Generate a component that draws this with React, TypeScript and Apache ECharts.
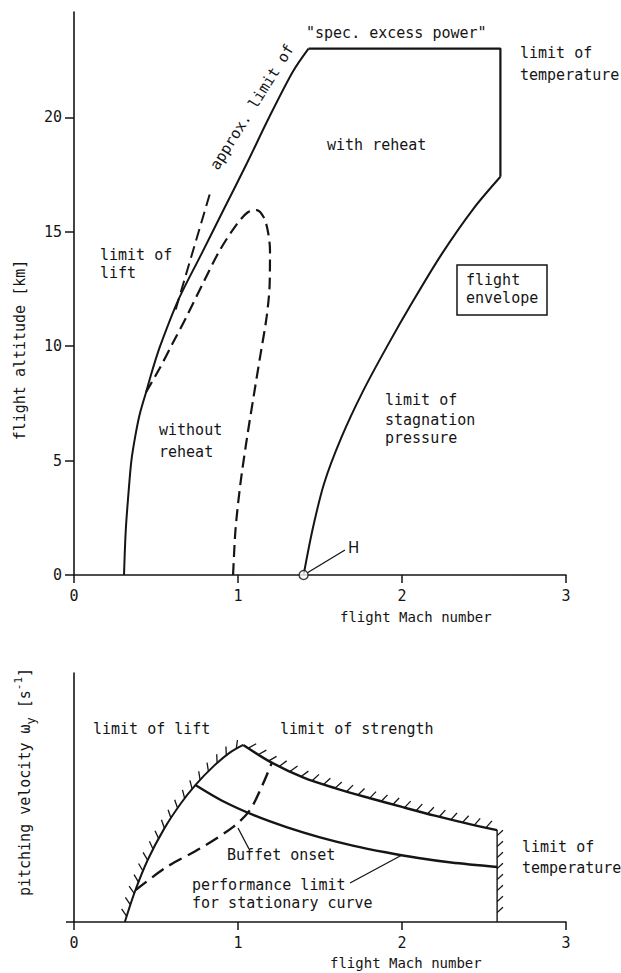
import React, { useEffect, useRef } from "react";
import * as echarts from "echarts";

// ---------- data ----------
const machTicks = [0, 1, 2, 3];
const altitudeTicks = [0, 5, 10, 15, 20];

// top chart: flight envelope [Mach, km]
const liftLimitTop = [[0.305, 0], [0.316, 2], [0.337, 4], [0.35, 5], [0.372, 6], [0.4, 7], [0.44, 8], [0.48, 9], [0.525, 10], [0.635, 12], [0.775, 14], [0.915, 16], [1.055, 18], [1.19, 20], [1.335, 22], [1.43, 23]];
const envelopeTop = [[1.43, 23], [2.6, 23], [2.6, 17.4]];
const stagnationLimit = [[2.6, 17.4], [2.435, 16], [2.24, 14], [2.07, 12], [1.91, 10], [1.76, 8], [1.63, 6], [1.525, 4], [1.455, 2], [1.4, 0]];
const excessPowerApprox = [[0.62, 11.6], [0.83, 16.7]];
const withoutReheat = [[0.97, 0], [0.985, 2], [1.015, 4], [1.055, 6], [1.093, 7.7], [1.134, 9.5], [1.175, 11.3], [1.193, 12.7], [1.195, 14.2], [1.18, 15.1], [1.155, 15.65], [1.114, 15.94], [1.06, 15.85], [0.99, 15.3], [0.89, 14.2], [0.79, 12.8], [0.687, 11.3], [0.6, 10.1], [0.52, 9.0], [0.44, 8.0]];
const pointH = [[1.4, 0]];

// bottom chart: pitching velocity (relative units)
const liftLimitBottom = [[0.31, 0], [0.37, 1.2], [0.45, 2.5], [0.55, 3.75], [0.65, 4.75], [0.74, 5.5], [0.85, 6.25], [0.95, 6.8], [1.032, 7.11]];
const strengthLimit = [[1.032, 7.11], [1.2, 6.42], [1.4, 5.8], [1.6, 5.36], [1.8, 4.98], [2.0, 4.62], [2.2, 4.27], [2.4, 3.95], [2.58, 3.69]];
const temperatureLimit = [[2.58, 3.69], [2.58, 0]];
const performanceLimit = [[0.74, 5.5], [0.9, 4.88], [1.1, 4.28], [1.3, 3.8], [1.5, 3.4], [1.7, 3.07], [1.9, 2.8], [2.1, 2.57], [2.3, 2.39], [2.58, 2.21]];
const buffetOnset = [[0.375, 1.28], [0.565, 2.21], [0.768, 2.95], [0.971, 3.82], [1.073, 4.5], [1.154, 5.57], [1.205, 6.38]];

// ---------- styles ----------
const INK = "#151515";
const MONO = "'DejaVu Sans Mono', 'Liberation Mono', monospace";

function hatchSeries(points: number[][], side: number, lean: number, spacing: number, len: number) {
  return {
    type: "custom",
    coordinateSystem: "cartesian2d",
    xAxisIndex: 1,
    yAxisIndex: 1,
    silent: true,
    data: [[points[0][0], points[0][1]]],
    renderItem: (_params: any, api: any) => {
      const px = points.map((p) => api.coord(p));
      const children: any[] = [];
      let carry = spacing / 2;
      for (let i = 0; i < px.length - 1; i++) {
        const [x0, y0] = px[i];
        const [x1, y1] = px[i + 1];
        const dx = x1 - x0;
        const dy = y1 - y0;
        const segLen = Math.hypot(dx, dy);
        if (segLen === 0) continue;
        const tx = dx / segLen;
        const ty = dy / segLen;
        const nx = ty * side;
        const ny = -tx * side;
        const hx = (nx * Math.cos(lean) + tx * Math.sin(lean)) * len;
        const hy = (ny * Math.cos(lean) + ty * Math.sin(lean)) * len;
        let d = carry;
        while (d <= segLen) {
          const x = x0 + tx * d;
          const y = y0 + ty * d;
          children.push({
            type: "line",
            shape: { x1: x, y1: y, x2: x + hx, y2: y + hy },
            style: { stroke: INK, lineWidth: 1.3 },
          });
          d += spacing;
        }
        carry = d - segLen;
      }
      return { type: "group", children };
    },
  };
}

function txt(text: string, x: number, y: number, extra: any = {}) {
  return {
    type: "text",
    x,
    y,
    rotation: extra.rotation || 0,
    style: {
      text,
      fontSize: extra.fontSize || 15,
      fontFamily: extra.fontFamily || MONO,
      fill: INK,
      align: extra.align || "left",
      verticalAlign: "middle",
      rich: extra.rich,
    },
  };
}

function axisCommon(gridIndex: number) {
  return {
    gridIndex,
    type: "value",
    axisLine: { show: true, onZero: false, lineStyle: { color: INK, width: 1.6 } },
    axisTick: { show: true, length: 8, lineStyle: { color: INK, width: 1.5 } },
    splitLine: { show: false },
    axisLabel: { color: INK, fontSize: 15, fontFamily: MONO },
  };
}

export default function App() {
  const ref = useRef<HTMLDivElement>(null);

  useEffect(() => {
    if (!ref.current) return;
    const chart = echarts.init(ref.current, undefined, { renderer: "svg" });

    const solid = (width: number) => ({ color: INK, width, type: "solid" as const });
    const dashed = (width: number, dash: number[] = [12, 6]) => ({ color: INK, width, type: dash as any });

    const lineSeries = (data: number[][], grid: number, lineStyle: any, smooth: number | boolean = false) => ({
      type: "line",
      xAxisIndex: grid,
      yAxisIndex: grid,
      data,
      showSymbol: false,
      symbol: "none",
      smooth,
      lineStyle,
      silent: true,
    });

    const option: any = {
      animation: false,
      backgroundColor: "#ffffff",
      grid: [
        { left: 74, top: 12, width: 492, height: 563 },
        { left: 74, top: 673, width: 492, height: 249 },
      ],
      xAxis: [
        {
          ...axisCommon(0),
          min: 0,
          max: 3,
          interval: 1,
          axisLabel: { color: INK, fontSize: 15, fontFamily: MONO, margin: 13, customValues: machTicks },
        },
        {
          ...axisCommon(1),
          min: 0,
          max: 3,
          interval: 1,
          axisLabel: { color: INK, fontSize: 15, fontFamily: MONO, margin: 13, customValues: machTicks },
        },
      ],
      yAxis: [
        {
          ...axisCommon(0),
          min: 0,
          max: 24.6,
          interval: 5,
          axisTick: { show: true, length: 9, lineStyle: { color: INK, width: 1.5 }, customValues: altitudeTicks },
          axisLabel: { color: INK, fontSize: 15, fontFamily: MONO, margin: 12, customValues: altitudeTicks },
        },
        {
          ...axisCommon(1),
          min: 0,
          max: 10,
          interval: 5,
          axisTick: { show: true, length: 8, lineStyle: { color: INK, width: 1.5 }, customValues: [0] },
          axisLabel: { show: false },
        },
      ],
      series: [
        lineSeries(liftLimitTop, 0, solid(2), 0.3),
        lineSeries(envelopeTop, 0, solid(2.2)),
        lineSeries(stagnationLimit, 0, solid(2), 0.3),
        lineSeries(excessPowerApprox, 0, dashed(2)),
        lineSeries(withoutReheat, 0, dashed(2.2), 0.3),
        {
          type: "scatter",
          xAxisIndex: 0,
          yAxisIndex: 0,
          data: pointH,
          symbol: "circle",
          symbolSize: 9,
          itemStyle: { color: "#fff", borderColor: INK, borderWidth: 1.5 },
          silent: true,
          z: 5,
        },
        lineSeries(liftLimitBottom, 1, solid(2), 0.3),
        lineSeries(strengthLimit, 1, solid(2.4), 0.3),
        lineSeries(temperatureLimit, 1, solid(1.4)),
        lineSeries(performanceLimit, 1, solid(2.4), 0.3),
        lineSeries(buffetOnset, 1, dashed(2.4, [14, 7]), 0.3),
        hatchSeries(liftLimitBottom, 1, 0.65, 12, 9),
        hatchSeries(strengthLimit, 1, 0.5, 12, 9),
        hatchSeries(temperatureLimit, 1, -0.75, 11, 8),
      ],
      graphic: [
        // top chart annotations
        txt('"spec. excess power"', 306, 33),
        txt("approx. limit of", 252, 107, { align: "center", rotation: (58 * Math.PI) / 180 }),
        txt("limit of", 520, 53),
        txt("temperature", 520, 75),
        txt("with reheat", 327, 145),
        txt("limit of", 100, 255),
        txt("lift", 100, 273),
        txt("flight", 466, 280),
        txt("envelope", 466, 298),
        {
          type: "rect",
          shape: { x: 457, y: 265, width: 90, height: 50 },
          style: { fill: "none", stroke: INK, lineWidth: 1.5 },
        },
        txt("without", 159, 430),
        txt("reheat", 159, 452),
        txt("limit of", 385, 400),
        txt("stagnation", 385, 420),
        txt("pressure", 385, 438),
        {
          type: "line",
          shape: { x1: 307, y1: 573, x2: 345, y2: 550 },
          style: { stroke: INK, lineWidth: 1.3 },
        },
        txt("H", 348, 548, { fontFamily: "'DejaVu Sans', sans-serif" }),
        txt("flight Mach number", 340, 617, { fontSize: 14 }),
        txt("flight altitude [km]", 20, 350, { align: "center", rotation: Math.PI / 2 }),
        // bottom chart annotations
        txt("limit of lift", 93, 729),
        txt("limit of strength", 280, 729),
        txt("limit of", 522, 847),
        txt("temperature", 522, 868),
        txt("Buffet onset", 227, 855),
        {
          type: "line",
          shape: { x1: 238, y1: 828, x2: 249, y2: 849 },
          style: { stroke: INK, lineWidth: 1.3 },
        },
        txt("performance limit", 192, 885),
        txt("for stationary curve", 192, 903),
        {
          type: "line",
          shape: { x1: 350, y1: 883, x2: 402, y2: 855 },
          style: { stroke: INK, lineWidth: 1.3 },
        },
        txt("flight Mach number", 330, 963, { fontSize: 14 }),
        txt("{a|pitching velocity ω}{b|y}{a| [s}{c|-1}{a|]}", 25, 782, {
          align: "center",
          rotation: Math.PI / 2,
          rich: {
            a: { fontSize: 15, fontFamily: MONO, fill: INK, lineHeight: 24, verticalAlign: "middle" },
            b: { fontSize: 12, fontFamily: MONO, fill: INK, lineHeight: 24, verticalAlign: "bottom" },
            c: { fontSize: 11, fontFamily: MONO, fill: INK, lineHeight: 24, verticalAlign: "top" },
          },
        }),
      ],
    };

    chart.setOption(option);
    return () => chart.dispose();
  }, []);

  return (
    <div
      ref={ref}
      style={{ position: "absolute", left: 0, top: 0, width: 621, height: 973, background: "#fff" }}
    />
  );
}
